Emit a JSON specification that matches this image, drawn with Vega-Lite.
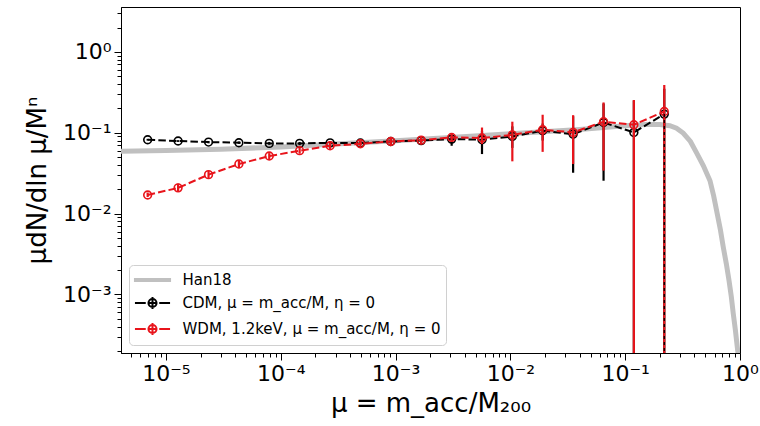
{
  "$schema": "https://vega.github.io/schema/vega-lite/v6.json",
  "width": 619,
  "height": 346,
  "autosize": "none",
  "padding": {"left": 121, "top": 7, "right": 20, "bottom": 73},
  "background": "white",
  "config": {
    "view": {"stroke": "black", "strokeWidth": 1},
    "axis": {
      "grid": false,
      "labelFont": "DejaVu Sans",
      "labelFontSize": 22,
      "labelColor": "black",
      "titleFont": "DejaVu Sans",
      "titleFontSize": 26,
      "titleFontWeight": "normal",
      "titleColor": "black",
      "tickColor": "black",
      "tickWidth": 1,
      "domainColor": "black",
      "labelFlush": false,
      "labelOverlap": false
    },
    "legend": {
      "labelFont": "DejaVu Sans",
      "labelFontSize": 15,
      "labelColor": "black",
      "labelLimit": 400
    }
  },
  "datasets": {
    "han18": [
      {"mu": 4.06e-6, "y": 0.0590},
      {"mu": 1e-5, "y": 0.0605},
      {"mu": 3e-5, "y": 0.0625},
      {"mu": 1e-4, "y": 0.0668},
      {"mu": 3e-4, "y": 0.0725},
      {"mu": 1e-3, "y": 0.0795},
      {"mu": 3e-3, "y": 0.0875},
      {"mu": 1e-2, "y": 0.0975},
      {"mu": 0.04, "y": 0.110},
      {"mu": 0.1, "y": 0.122},
      {"mu": 0.15, "y": 0.1265},
      {"mu": 0.2, "y": 0.1265},
      {"mu": 0.245, "y": 0.122},
      {"mu": 0.28, "y": 0.114},
      {"mu": 0.32, "y": 0.099},
      {"mu": 0.37, "y": 0.078},
      {"mu": 0.42, "y": 0.056},
      {"mu": 0.48, "y": 0.039},
      {"mu": 0.548, "y": 0.0255},
      {"mu": 0.59, "y": 0.0165},
      {"mu": 0.634, "y": 0.0099},
      {"mu": 0.675, "y": 0.0063},
      {"mu": 0.715, "y": 0.00384},
      {"mu": 0.76, "y": 0.0024},
      {"mu": 0.802, "y": 0.00149},
      {"mu": 0.84, "y": 0.00094},
      {"mu": 0.874, "y": 0.000578},
      {"mu": 0.91, "y": 0.00037},
      {"mu": 0.947, "y": 0.000224},
      {"mu": 0.975, "y": 0.000155},
      {"mu": 1.0, "y": 0.00011}
    ],
    "subhalo": [
      {"model": "CDM", "mu": 6.93e-6, "y": 0.082, "lo": 0.080, "hi": 0.084},
      {"model": "CDM", "mu": 1.276e-5, "y": 0.079, "lo": 0.077, "hi": 0.081},
      {"model": "CDM", "mu": 2.35e-5, "y": 0.0767, "lo": 0.074, "hi": 0.079},
      {"model": "CDM", "mu": 4.32e-5, "y": 0.0753, "lo": 0.073, "hi": 0.078},
      {"model": "CDM", "mu": 7.94e-5, "y": 0.0738, "lo": 0.071, "hi": 0.077},
      {"model": "CDM", "mu": 1.46e-4, "y": 0.0738, "lo": 0.070, "hi": 0.077},
      {"model": "CDM", "mu": 2.69e-4, "y": 0.075, "lo": 0.071, "hi": 0.079},
      {"model": "CDM", "mu": 4.94e-4, "y": 0.0746, "lo": 0.070, "hi": 0.079},
      {"model": "CDM", "mu": 9.09e-4, "y": 0.078, "lo": 0.072, "hi": 0.084},
      {"model": "CDM", "mu": 1.67e-3, "y": 0.080, "lo": 0.072, "hi": 0.088},
      {"model": "CDM", "mu": 3.08e-3, "y": 0.0835, "lo": 0.069, "hi": 0.095},
      {"model": "CDM", "mu": 5.66e-3, "y": 0.082, "lo": 0.0545, "hi": 0.105},
      {"model": "CDM", "mu": 1.04e-2, "y": 0.090, "lo": 0.065, "hi": 0.120},
      {"model": "CDM", "mu": 1.91e-2, "y": 0.106, "lo": 0.080, "hi": 0.130},
      {"model": "CDM", "mu": 3.52e-2, "y": 0.096, "lo": 0.032, "hi": 0.160},
      {"model": "CDM", "mu": 6.48e-2, "y": 0.134, "lo": 0.0255, "hi": 0.230},
      {"model": "CDM", "mu": 0.119, "y": 0.101, "lo": 1e-6, "hi": 0.250},
      {"model": "CDM", "mu": 0.219, "y": 0.170, "lo": 1e-6, "hi": 0.350},
      {"model": "WDM", "mu": 6.93e-6, "y": 0.017, "lo": 0.0160, "hi": 0.0182},
      {"model": "WDM", "mu": 1.276e-5, "y": 0.0208, "lo": 0.019, "hi": 0.0235},
      {"model": "WDM", "mu": 2.35e-5, "y": 0.0303, "lo": 0.027, "hi": 0.034},
      {"model": "WDM", "mu": 4.32e-5, "y": 0.041, "lo": 0.037, "hi": 0.045},
      {"model": "WDM", "mu": 7.94e-5, "y": 0.0515, "lo": 0.047, "hi": 0.056},
      {"model": "WDM", "mu": 1.46e-4, "y": 0.060, "lo": 0.055, "hi": 0.066},
      {"model": "WDM", "mu": 2.69e-4, "y": 0.069, "lo": 0.063, "hi": 0.075},
      {"model": "WDM", "mu": 4.94e-4, "y": 0.073, "lo": 0.066, "hi": 0.080},
      {"model": "WDM", "mu": 9.09e-4, "y": 0.078, "lo": 0.070, "hi": 0.087},
      {"model": "WDM", "mu": 1.67e-3, "y": 0.081, "lo": 0.072, "hi": 0.090},
      {"model": "WDM", "mu": 3.08e-3, "y": 0.0875, "lo": 0.077, "hi": 0.099},
      {"model": "WDM", "mu": 5.66e-3, "y": 0.086, "lo": 0.0725, "hi": 0.116},
      {"model": "WDM", "mu": 1.04e-2, "y": 0.094, "lo": 0.0443, "hi": 0.137},
      {"model": "WDM", "mu": 1.91e-2, "y": 0.109, "lo": 0.058, "hi": 0.167},
      {"model": "WDM", "mu": 3.52e-2, "y": 0.101, "lo": 0.041, "hi": 0.165},
      {"model": "WDM", "mu": 6.48e-2, "y": 0.137, "lo": 0.034, "hi": 0.237},
      {"model": "WDM", "mu": 0.119, "y": 0.1255, "lo": 1e-6, "hi": 0.255},
      {"model": "WDM", "mu": 0.219, "y": 0.183, "lo": 1e-6, "hi": 0.390}
    ],
    "legendkeys": []
  },
  "layer": [
    {
      "data": {"name": "han18"},
      "mark": {"type": "line", "color": "#c0c0c0", "strokeWidth": 5, "clip": true},
      "encoding": {
        "x": {
          "field": "mu", "type": "quantitative",
          "scale": {"type": "log", "domain": [4.06e-6, 1], "nice": false},
          "axis": {
            "values": [5e-6, 6e-6, 7e-6, 8e-6, 9e-6, 1e-5, 2e-5, 3e-5, 4e-5, 5e-5, 6e-5, 7e-5, 8e-5, 9e-5, 1e-4, 2e-4, 3e-4, 4e-4, 5e-4, 6e-4, 7e-4, 8e-4, 9e-4, 1e-3, 2e-3, 3e-3, 4e-3, 5e-3, 6e-3, 7e-3, 8e-3, 9e-3, 1e-2, 2e-2, 3e-2, 4e-2, 5e-2, 6e-2, 7e-2, 8e-2, 9e-2, 0.1, 0.2, 0.3, 0.4, 0.5, 0.6, 0.7, 0.8, 0.9, 1],
            "labelExpr": "abs(log(datum.value)/LN10 - round(log(datum.value)/LN10)) < 0.000001 ? '10' + replace(replace(replace(replace(replace(replace(replace('' + round(log(datum.value)/LN10), '-', '⁻'), '0', '⁰'), '1', '¹'), '2', '²'), '3', '³'), '4', '⁴'), '5', '⁵') : ''",
            "tickSize": {"condition": {"test": "abs(log(datum.value)/LN10 - round(log(datum.value)/LN10)) < 0.000001", "value": 7}, "value": 4},
            "labelPadding": 3,
            "titlePadding": 6
          },
          "title": "μ = m_acc/M₂₀₀"
        },
        "y": {
          "field": "y", "type": "quantitative",
          "scale": {"type": "log", "domain": [1.885e-4, 3.594], "nice": false},
          "axis": {
            "values": [2e-4, 3e-4, 4e-4, 5e-4, 6e-4, 7e-4, 8e-4, 9e-4, 1e-3, 2e-3, 3e-3, 4e-3, 5e-3, 6e-3, 7e-3, 8e-3, 9e-3, 1e-2, 2e-2, 3e-2, 4e-2, 5e-2, 6e-2, 7e-2, 8e-2, 9e-2, 0.1, 0.2, 0.3, 0.4, 0.5, 0.6, 0.7, 0.8, 0.9, 1, 2, 3],
            "labelExpr": "abs(log(datum.value)/LN10 - round(log(datum.value)/LN10)) < 0.000001 ? '10' + replace(replace(replace(replace(replace(replace(replace('' + round(log(datum.value)/LN10), '-', '⁻'), '0', '⁰'), '1', '¹'), '2', '²'), '3', '³'), '4', '⁴'), '5', '⁵') : ''",
            "tickSize": {"condition": {"test": "abs(log(datum.value)/LN10 - round(log(datum.value)/LN10)) < 0.000001", "value": 7}, "value": 4},
            "labelPadding": 3,
            "titlePadding": 12
          },
          "title": "μdN/dln μ/Mⁿ"
        }
      }
    },
    {
      "data": {"name": "subhalo"},
      "transform": [{"filter": "datum.model == 'CDM'"}],
      "mark": {"type": "rule", "color": "black", "strokeWidth": 2.2, "clip": true},
      "encoding": {
        "x": {"field": "mu", "type": "quantitative"},
        "y": {"field": "lo", "type": "quantitative"},
        "y2": {"field": "hi"}
      }
    },
    {
      "data": {"name": "subhalo"},
      "transform": [{"filter": "datum.model == 'CDM'"}],
      "mark": {"type": "line", "color": "black", "strokeWidth": 2, "strokeDash": [7.5, 3.2], "clip": true},
      "encoding": {
        "x": {"field": "mu", "type": "quantitative"},
        "y": {"field": "y", "type": "quantitative"}
      }
    },
    {
      "data": {"name": "subhalo"},
      "transform": [{"filter": "datum.model == 'CDM'"}],
      "mark": {"type": "point", "shape": "circle", "filled": false, "opacity": 1, "color": "black", "strokeWidth": 1.6, "size": 60, "clip": true},
      "encoding": {
        "x": {"field": "mu", "type": "quantitative"},
        "y": {"field": "y", "type": "quantitative"}
      }
    },
    {
      "data": {"name": "subhalo"},
      "transform": [{"filter": "datum.model == 'WDM'"}],
      "mark": {"type": "rule", "color": "#e8141b", "strokeWidth": 2.2, "clip": true},
      "encoding": {
        "x": {"field": "mu", "type": "quantitative"},
        "y": {"field": "lo", "type": "quantitative"},
        "y2": {"field": "hi"}
      }
    },
    {
      "data": {"name": "subhalo"},
      "transform": [{"filter": "datum.model == 'WDM'"}],
      "mark": {"type": "line", "color": "#e8141b", "strokeWidth": 2, "strokeDash": [7.5, 3.2], "clip": true},
      "encoding": {
        "x": {"field": "mu", "type": "quantitative"},
        "y": {"field": "y", "type": "quantitative"}
      }
    },
    {
      "data": {"name": "subhalo"},
      "transform": [{"filter": "datum.model == 'WDM'"}],
      "mark": {"type": "point", "shape": "circle", "filled": false, "opacity": 1, "color": "#e8141b", "strokeWidth": 1.6, "size": 60, "clip": true},
      "encoding": {
        "x": {"field": "mu", "type": "quantitative"},
        "y": {"field": "y", "type": "quantitative"}
      }
    },
    {
      "data": {"name": "subhalo"},
      "transform": [{"filter": "datum.model == 'CDM' && datum.mu > 0.2"}],
      "mark": {"type": "rule", "color": "black", "strokeWidth": 1.3, "strokeDash": [3, 3], "clip": true},
      "encoding": {
        "x": {"field": "mu", "type": "quantitative"},
        "y": {"field": "lo", "type": "quantitative"},
        "y2": {"field": "y"}
      }
    },
    {
      "data": {"name": "legendkeys"},
      "mark": {"type": "point", "filled": false, "opacity": 1, "strokeWidth": 2, "size": 324},
      "encoding": {
        "color": {
          "field": "series", "type": "nominal",
          "scale": {
            "domain": ["Han18", "CDM, μ = m_acc/M, η = 0", "WDM, 1.2keV, μ = m_acc/M, η = 0"],
            "range": ["#c0c0c0", "black", "#e8141b"]
          },
          "legend": {
            "orient": "bottom-left",
            "offset": 8,
            "title": null,
            "padding": 5,
            "rowPadding": 4,
            "symbolSize": 324,
            "symbolStrokeWidth": 2,
            "symbolOpacity": 1,
            "symbolOffset": 8.5,
            "labelOffset": 20,
            "strokeColor": "#d0d0d0",
            "cornerRadius": 4,
            "fillColor": "white"
          }
        },
        "shape": {
          "field": "series", "type": "nominal",
          "scale": {
            "domain": ["Han18", "CDM, μ = m_acc/M, η = 0", "WDM, 1.2keV, μ = m_acc/M, η = 0"],
            "range": [
              "M-1.95,-0.12H1.95V0.12H-1.95Z",
              "M-1.95,0H-0.75M0.75,0H1.95M-0.45,0A0.45,0.45 0 1,1 0.45,0A0.45,0.45 0 1,1 -0.45,0M0,-0.67V0.67M-0.45,0H0.45",
              "M-1.95,0H-0.75M0.75,0H1.95M-0.45,0A0.45,0.45 0 1,1 0.45,0A0.45,0.45 0 1,1 -0.45,0M0,-0.67V0.67M-0.45,0H0.45"
            ]
          }
        }
      }
    }
  ]
}
